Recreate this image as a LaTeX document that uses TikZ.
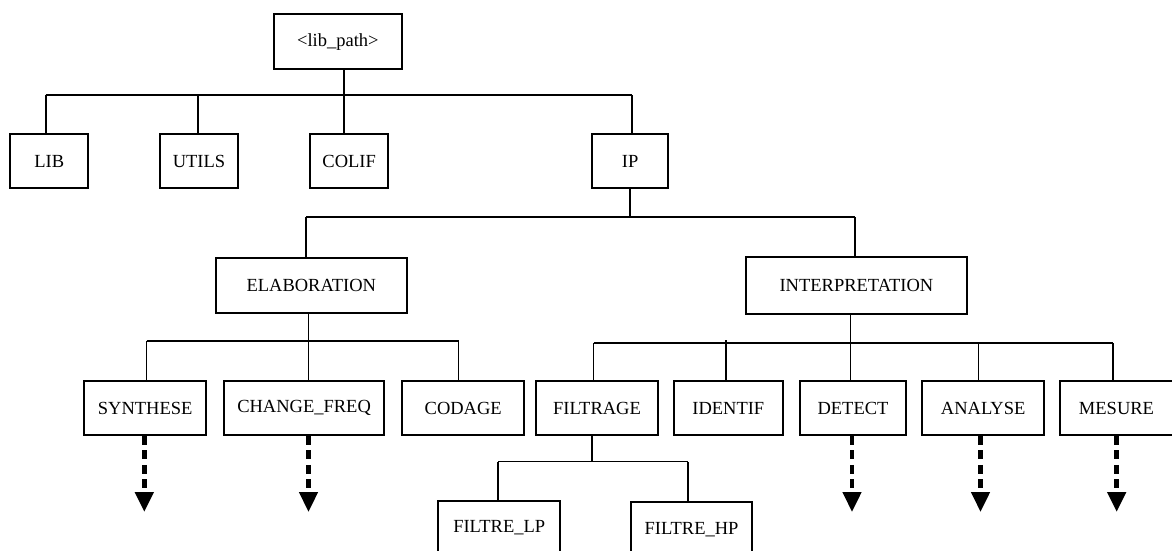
\documentclass[tikz,border=0pt]{standalone}
\usepackage{fontspec}
\setmainfont{Liberation Serif}
\usetikzlibrary{arrows.meta}
% vertical link from a shifted top/bottom anchor to a bus level
\newcommand\treelink[3]{\draw[link] ([xshift=#2]#1) -- ([xshift=#2]#1 |- #3);}
\begin{document}
\begin{tikzpicture}[x=1pt,y=-1pt,
  box/.style={draw, line width=1.9pt, inner sep=0pt, minimum height=54pt,
    font=\fontsize{18.5}{21}\selectfont},
  link/.style={line width=1.7pt},
  pending/.style={line width=4.6pt, dash pattern=on 9pt off 5.5pt,
    -{Triangle[width=18pt,length=20pt]}}
]
\useasboundingbox (0,0) rectangle (1172,551);
\clip (0,0) rectangle (1172,551);

% library tree
\node[box, minimum width=127.7pt, minimum height=54.7pt] (root) at (337.9,41.7) {<lib\_path>};

\node[box, minimum width=78.3pt] (lib)   at (49.2,161.3)  {LIB};
\node[box, minimum width=78pt]   (utils) at (199,161.3)   {UTILS};
\node[box, minimum width=78.3pt] (colif) at (349.2,161.3) {COLIF};
\node[box, minimum width=76.3pt] (ip)    at (630.2,161.3) {IP};

\node[box, minimum width=190.5pt, minimum height=54.4pt] (elab)   at (311.3,285.5) {ELABORATION};
\node[box, minimum width=220.7pt, minimum height=57.6pt] (interp) at (856.4,285.5) {INTERPRETATION};

\node[box, minimum width=122.3pt] (syn)     at (145.2,408)  {SYNTHESE};
\node[box, minimum width=160.2pt] (chf)     at (304.1,408)  {CHANGE\_FREQ};
\node[box, minimum width=122.3pt] (cod)     at (463.2,408)  {CODAGE};
\node[box, minimum width=122pt]   (filt)    at (597,408)    {FILTRAGE};
\node[box, minimum width=108.5pt] (ident)   at (728.3,408)  {IDENTIF};
\node[box, minimum width=106pt]   (detect)  at (853,408)    {DETECT};
\node[box, minimum width=122.4pt] (analyse) at (983.2,408)  {ANALYSE};
\node[box, minimum width=113pt]   (mesure)  at (1116.5,408) {MESURE};

\node[box, minimum width=121.7pt] (flp) at (499.2,527.7) {FILTRE\_LP};
\node[box, minimum width=121.6pt] (fhp) at (691.5,529.3) {FILTRE\_HP};

% bus levels
\coordinate (b1) at (0,95);
\coordinate (b2) at (0,216.7);
\coordinate (b3) at (0,340.7);
\coordinate (b4) at (0,342.7);
\coordinate (b5) at (0,461.5);
\coordinate (tips) at (0,512);

% <lib_path> children
\treelink{root.south}{6pt}{b1}
\draw[link] ([xshift=-3.5pt]lib.north |- b1) -- ([xshift=2.1pt]ip.north |- b1);
\treelink{lib.north}{-3.5pt}{b1}
\treelink{utils.north}{-0.7pt}{b1}
\treelink{colif.north}{-5.2pt}{b1}
\treelink{ip.north}{2.1pt}{b1}

% IP children
\treelink{ip.south}{0pt}{b2}
\draw[link] ([xshift=-5.3pt]elab.north |- b2) -- ([xshift=-1.4pt]interp.north |- b2);
\treelink{elab.north}{-5.3pt}{b2}
\treelink{interp.north}{-1.4pt}{b2}

% ELABORATION children
\treelink{elab.south}{-2.8pt}{b3}
\draw[link] ([xshift=1.4pt]syn.north |- b3) -- ([xshift=-4.7pt]cod.north |- b3);
\treelink{syn.north}{1.4pt}{b3}
\treelink{chf.north}{4.4pt}{b3}
\treelink{cod.north}{-4.7pt}{b3}

% INTERPRETATION children
\treelink{interp.south}{-6pt}{b4}
\draw[link] ([xshift=-3.4pt]filt.north |- b4) -- ([xshift=-3.8pt]mesure.north |- b4);
\treelink{filt.north}{-3.4pt}{b4}
\draw[link] ([xshift=-2.3pt]ident.north) -- ([xshift=-2.3pt,yshift=2.7pt]ident.north |- b4);
\treelink{detect.north}{-2.6pt}{b4}
\treelink{analyse.north}{-4.6pt}{b4}
\treelink{mesure.north}{-3.8pt}{b4}

% FILTRAGE children
\treelink{filt.south}{-4.7pt}{b5}
\draw[link] ([xshift=-1pt]flp.north |- b5) -- ([xshift=-3.8pt]fhp.north |- b5);
\treelink{flp.north}{-1pt}{b5}
\treelink{fhp.north}{-3.8pt}{b5}

% branches continued elsewhere
\draw[pending] ([xshift=-0.9pt]syn.south)   -- ([xshift=-0.9pt]syn.south |- tips);
\draw[pending] ([xshift=4.4pt]chf.south)    -- ([xshift=4.4pt]chf.south |- tips);
\draw[pending] ([xshift=-1pt]detect.south)  -- ([xshift=-1pt]detect.south |- tips);
\draw[pending] ([xshift=-2.7pt]analyse.south) -- ([xshift=-2.7pt]analyse.south |- tips);
\draw[pending] ([xshift=0.2pt]mesure.south) -- ([xshift=0.2pt]mesure.south |- tips);
\end{tikzpicture}
\end{document}
